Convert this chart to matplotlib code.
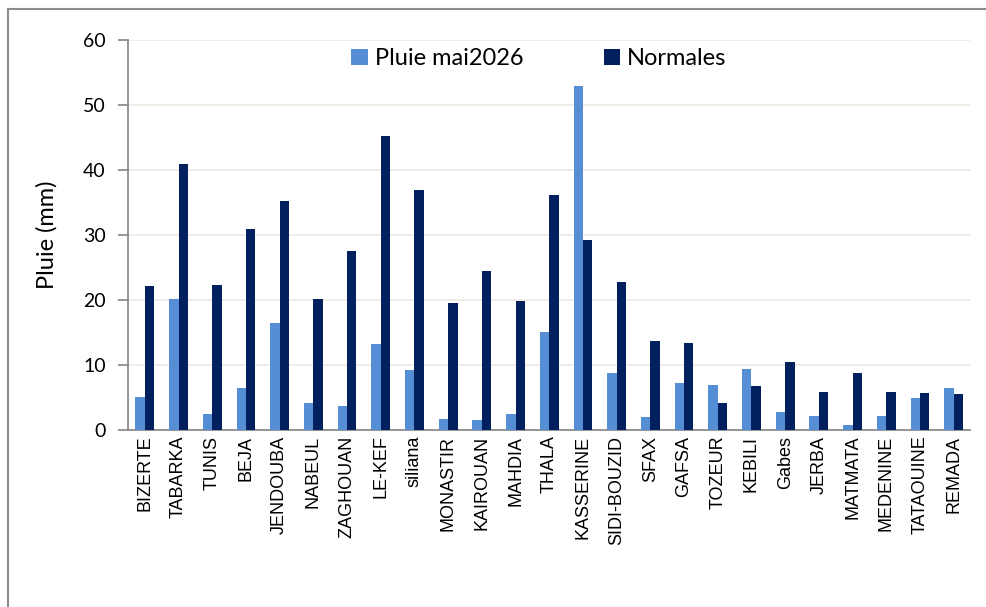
import matplotlib
matplotlib.use("Agg")
import matplotlib.pyplot as plt
import numpy as np
from matplotlib.patches import Rectangle

STATIONS = ["BIZERTE", "TABARKA", "TUNIS", "BEJA", "JENDOUBA", "NABEUL", "ZAGHOUAN",
            "LE-KEF", "siliana", "MONASTIR", "KAIROUAN", "MAHDIA", "THALA", "KASSERINE",
            "SIDI-BOUZID", "SFAX", "GAFSA", "TOZEUR", "KEBILI", "Gabes", "JERBA",
            "MATMATA", "MEDENINE", "TATAOUINE", "REMADA"]
PLUIE_MAI = [5.1, 20.1, 2.5, 6.4, 16.5, 4.1, 3.7, 13.3, 9.3, 1.7, 1.5, 2.5, 15.1,
             52.9, 8.7, 2.0, 7.2, 7.0, 9.4, 2.8, 2.2, 0.8, 2.2, 5.0, 6.5]
NORMALES = [22.2, 40.9, 22.3, 31.0, 35.3, 20.1, 27.6, 45.3, 37.0, 19.6, 24.5, 19.8,
            36.1, 29.2, 22.7, 13.7, 13.4, 4.1, 6.8, 10.5, 5.9, 8.8, 5.8, 5.7, 5.6]

C_PLUIE = "#558ED5"
C_NORM = "#03205E"

fig = plt.figure(figsize=(9.87, 6.07), dpi=100)
ax = fig.add_axes([128 / 987, 1 - 430 / 607, (970.5 - 128) / 987, 390 / 607])

x = np.arange(len(STATIONS))
w = 0.28
ax.bar(x - w / 2, PLUIE_MAI, w, color=C_PLUIE, label="Pluie mai2026", zorder=3)
ax.bar(x + w / 2, NORMALES, w, color=C_NORM, label="Normales", zorder=3)

ax.set_xlim(-0.5, len(STATIONS) - 0.5)
ax.set_ylim(0, 60)
ax.set_yticks(range(0, 61, 10))
ax.yaxis.grid(True, color="#EDEBE2", lw=1.3, zorder=0)
ax.set_axisbelow(True)
for s in ("top", "right"):
    ax.spines[s].set_visible(False)
for s in ("left", "bottom"):
    ax.spines[s].set_color("#8C8C8C")
    ax.spines[s].set_linewidth(1.3)
ax.tick_params(axis="y", length=7, width=1.3, color="#8C8C8C", labelsize=14, pad=9)
ax.tick_params(axis="x", length=0, pad=4)
ax.set_xticks(x)
ax.set_xticklabels(STATIONS, rotation=90, fontsize=13, family="Liberation Sans")
for lab in ax.get_yticklabels():
    lab.set_family("Lato")
ax.set_ylabel("Pluie (mm)", fontsize=17, family="Lato", labelpad=18)

leg = ax.legend(loc="upper left", bbox_to_anchor=(330 / 987, 1 - 27 / 607),
                bbox_transform=fig.transFigure, ncol=2, frameon=False,
                prop={"family": "Lato", "size": 17}, handlelength=0.7,
                handleheight=0.7, handletextpad=0.3, columnspacing=3.4)

fig.patches.append(Rectangle((8 / 987, -0.2), 1.2, 1.2 - 9 / 607, transform=fig.transFigure,
                             fill=False, edgecolor="#8C8C8C", lw=1.5, clip_on=False))

fig.savefig("out.png", dpi=100)
